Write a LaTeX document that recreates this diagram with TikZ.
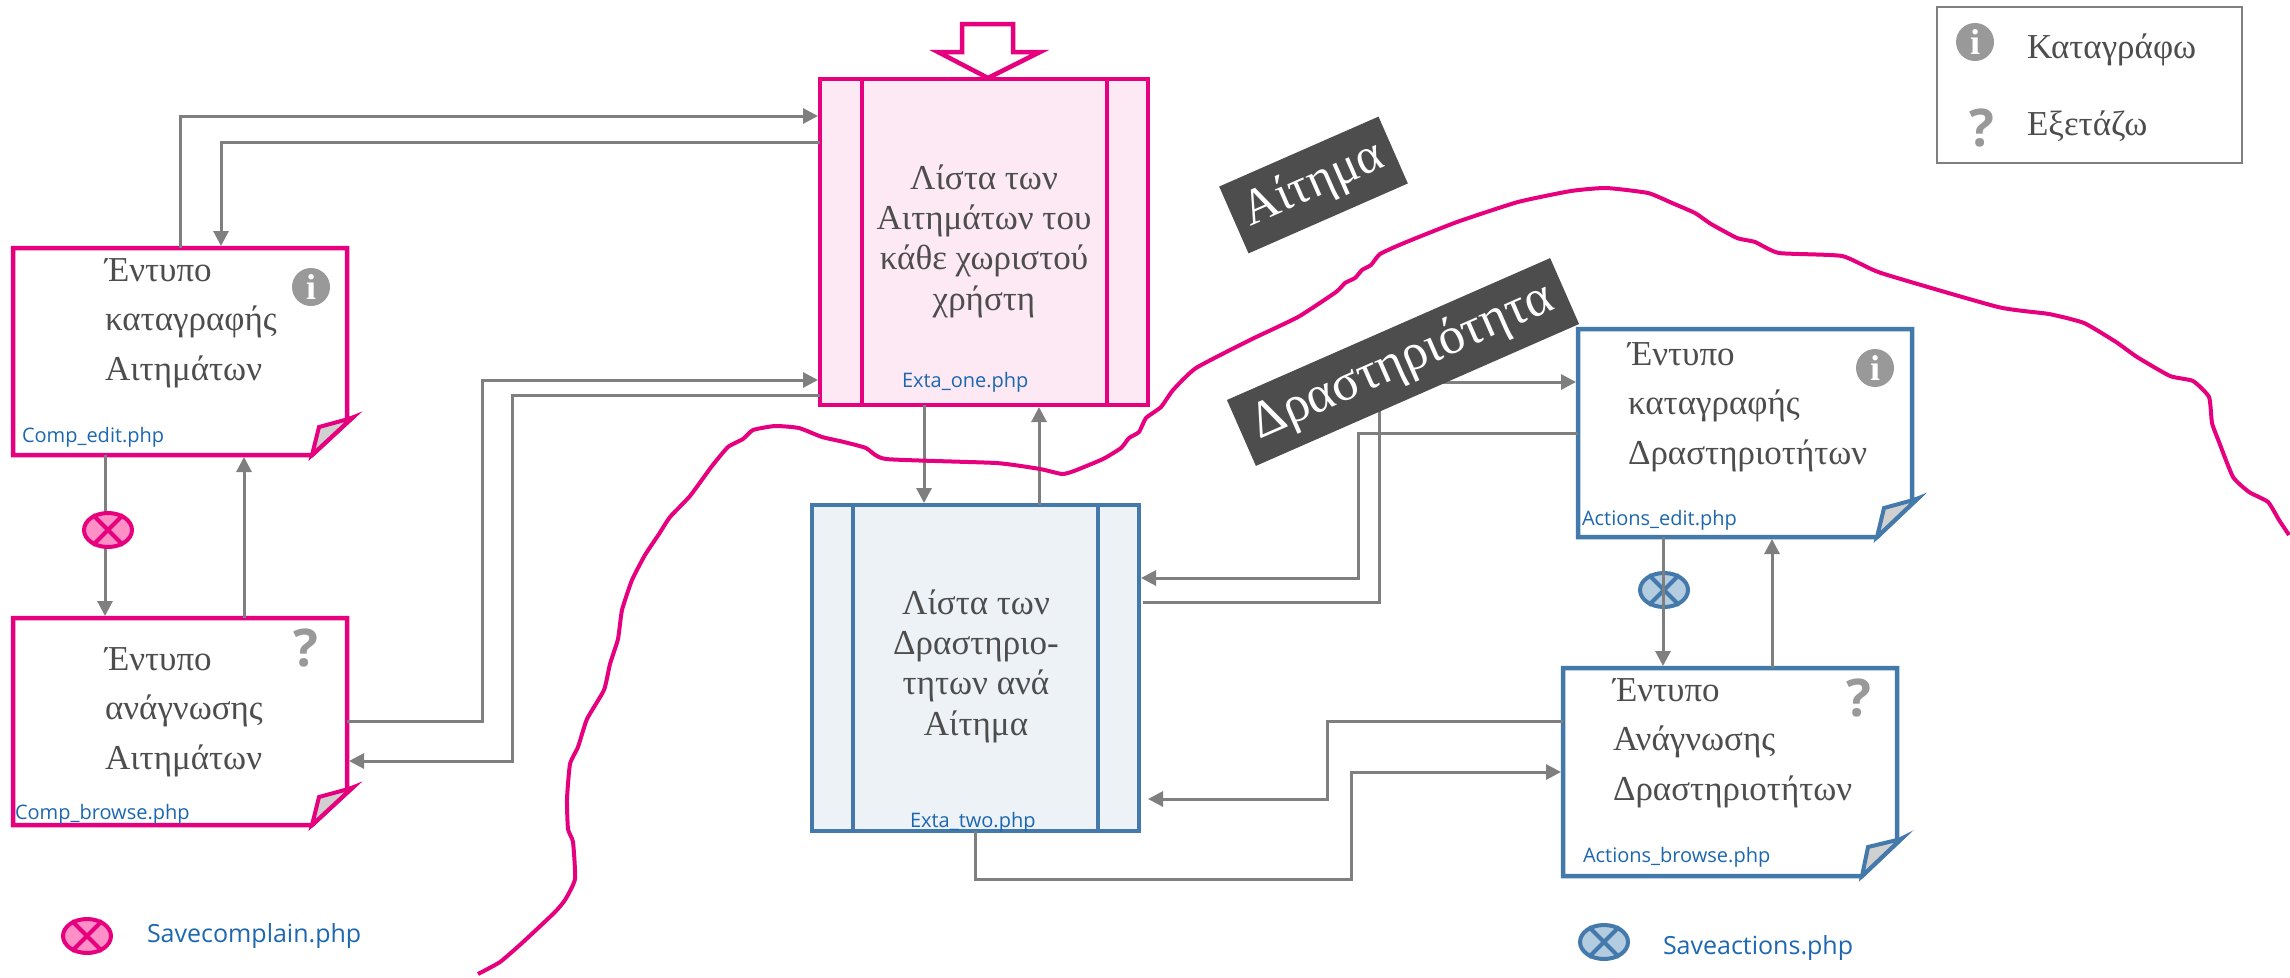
\documentclass[tikz,border=0pt]{standalone}
\usepackage{fontspec}
\setmainfont{Liberation Serif}
\newfontfamily\uifont{Open Sans}
\usetikzlibrary{arrows.meta,shapes.geometric,calc}
\definecolor{pinkc}{HTML}{E6007E}
\definecolor{pinkf}{HTML}{FDE9F4}
\definecolor{pinkm}{HTML}{FF8FC7}
\definecolor{bluec}{HTML}{4479AB}
\definecolor{bluef}{HTML}{EDF2F7}
\definecolor{bluem}{HTML}{B4CCE0}
\definecolor{grayc}{HTML}{7F7F7F}
\definecolor{txt}{HTML}{4D4D4D}
\definecolor{phpc}{HTML}{1D67B0}
\definecolor{icon}{HTML}{999999}
\definecolor{foldc}{HTML}{D0D0D0}
\tikzset{
  area/.style={rectangle,inner sep=0pt,outer sep=0pt,anchor=north west},
  frame/.style={line width=4.5pt,miter limit=10,line join=miter},
  foldp/.style={line width=4pt,fill=foldc,line join=miter},
  conn/.style={draw=grayc,line width=3pt},
  arr/.style={conn,-{Triangle[length=15pt,width=15pt]},shorten >=2pt},
  greek/.style={inner sep=0pt,outer sep=0pt,text=txt,font=\fontsize{35}{49.5}\selectfont,align=left,anchor=base west},
  greekc/.style={inner sep=0pt,outer sep=0pt,text=txt,font=\fontsize{35}{40.3}\selectfont,align=center,anchor=base},
  php/.style={inner sep=0pt,outer sep=0pt,text=phpc,font=\uifont\fontsize{20}{24}\selectfont,anchor=base west},
  phpl/.style={inner sep=0pt,outer sep=0pt,text=phpc,font=\uifont\fontsize{25}{30}\selectfont,anchor=base west},
  infoi/.style={circle,fill=icon,minimum size=38pt,inner sep=0pt,text=white,font=\bfseries\fontsize{36}{36}\selectfont},
  askq/.style={inner sep=0pt,text=icon,font=\uifont\bfseries\fontsize{52}{52}\selectfont},
  band/.style={rectangle,fill=txt,text=white,inner sep=0pt,rotate=23.7},
  mark pink/.style={ellipse,draw=pinkc,fill=pinkm,line width=4pt,minimum width=48pt,minimum height=34pt,inner sep=0pt},
  mark blue/.style={ellipse,draw=bluec,fill=bluem,line width=4pt,minimum width=48pt,minimum height=34pt,inner sep=0pt},
}
\begin{document}
\begin{tikzpicture}[x=1pt,y=-1pt]
\useasboundingbox (0,0) rectangle (2290,977);
% areas
\node[area,minimum width=334pt,minimum height=207pt] (ce) at (13,248) {};
\node[area,minimum width=334pt,minimum height=207pt] (cb) at (13,618) {};
\node[area,minimum width=334pt,minimum height=208pt] (ae) at (1578,329) {};
\node[area,minimum width=334pt,minimum height=208pt] (ab) at (1563,668) {};
\node[area,minimum width=328pt,minimum height=326pt,draw=pinkc,fill=pinkf,line width=4.5pt] (ex1) at (820,79) {};
\node[area,minimum width=327pt,minimum height=326pt,draw=bluec,fill=bluef,line width=4pt] (ex2) at (812,505) {};
% ex sides
\draw[pinkc,line width=4.5pt] (862,0 |- ex1.north) -- (862,0 |- ex1.south);
\draw[pinkc,line width=4.5pt] (1107,0 |- ex1.north) -- (1107,0 |- ex1.south);
\draw[bluec,line width=4pt] (853,0 |- ex2.north) -- (853,0 |- ex2.south);
\draw[bluec,line width=4pt] (1098,0 |- ex2.north) -- (1098,0 |- ex2.south);
% forms
\draw[pinkc,frame] (ce.north west) -- (ce.north east) -- (ce.east |- 0,420) -- (352,418) -- (312,455) -- (ce.south west) -- cycle;
\draw[pinkc,foldp] (312,455) -- (319,427) -- (352,418) -- cycle;
\draw[pinkc,frame] (cb.north west) -- (cb.north east) -- (cb.east |- 0,790) -- (352,788) -- (312,825) -- (cb.south west) -- cycle;
\draw[pinkc,foldp] (312,825) -- (319,797) -- (352,788) -- cycle;
\draw[bluec,frame] (ae.north west) -- (ae.north east) -- (ae.east |- 0,501) -- (1917,499) -- (1877,537) -- (ae.south west) -- cycle;
\draw[bluec,foldp] (1877,537) -- (1884,508) -- (1917,499) -- cycle;
\draw[bluec,frame] (ab.north west) -- (ab.north east) -- (ab.east |- 0,841) -- (1901,839) -- (1862,876) -- (ab.south west) -- cycle;
\draw[bluec,foldp] (1862,876) -- (1868,847) -- (1901,839) -- cycle;
% block arrow
\draw[pinkc,line width=4.5pt,fill=white,line join=miter] (962,24) -- (1013,24) -- (1013,52) -- (1040,52) -- (988,78) -- (938,52) -- (962,52) -- cycle;
% connectors
\draw[arr] (ce.north -| 180,0) -- (180,116) -- (ex1.west |- 0,116);
\draw[arr] (ex1.west |- 0,142) -- (221,142) -- (221,0 |- ce.north);
\draw[arr] (cb.east |- 0,721) -- (482,721) -- (482,380) -- (ex1.west |- 0,380);
\draw[arr] (ex1.west |- 0,395) -- (512,395) -- (512,761) -- (cb.east |- 0,761);
\draw[arr] (105,0 |- ce.south) -- (105,0 |- cb.north);
\draw[arr] (244,0 |- cb.north) -- (244,0 |- ce.south);
\draw[arr] (924,0 |- ex1.south) -- (924,0 |- ex2.north);
\draw[arr] (1039,0 |- ex2.north) -- (1039,0 |- ex1.south);
\draw[conn,-{Triangle[length=15pt,width=15pt]},shorten >=2pt,shorten <=4pt] (ex2.east |- 0,602) -- (1379,602) -- (1379,382) -- (ae.west |- 0,382);
\draw[arr] (ae.west |- 0,433) -- (1358,433) -- (1358,578) -- (ex2.east |- 0,578);
\node[mark blue] (mb) at (1664,590) {};
\draw[bluec,line width=4pt] (mb.45) -- (mb.225) (mb.135) -- (mb.315);
\draw[arr] (1663,0 |- ae.south) -- (1663,0 |- ab.north);
\draw[arr] (1772,0 |- ab.north) -- (1772,0 |- ae.south);
\draw[conn,-{Triangle[length=15pt,width=15pt]},shorten >=9pt] (ab.west |- 0,721) -- (1327,721) -- (1327,799) -- (ex2.east |- 0,799);
\draw[arr] (975,0 |- ex2.south) -- (975,879) -- (1351,879) -- (1351,772) -- (ab.west |- 0,772);
% pink marker on its line
\node[mark pink] (mp) at (108,530) {};
\draw[pinkc,line width=4pt] (mp.45) -- (mp.225) (mp.135) -- (mp.315);
% frontier
\draw[pinkc,line width=4pt,line join=round] plot[smooth,tension=0.3] coordinates {
(478,974)(500,962)(522,943)(554,913)(565,900)(575,879)(573,842)(568,829)(567,799)(570,764)(578,747)(587,719)(604,690)(610,664)(618,639)(622,610)(632,580)(645,555)(659,534)(670,517)(690,496)(712,466)(728,447)(743,439)(753,430)(775,426)(799,428)(822,437)(844,442)(866,448)(886,459)(996,463)(1040,469)(1062,474)(1074,471)(1103,459)(1121,448)(1129,438)(1139,432)(1146,418)(1161,407)(1173,390)(1196,368)(1250,340)(1298,317)(1336,292)(1345,283)(1355,278)(1362,270)(1371,265)(1380,254)(1404,243)(1457,222)(1518,202)(1571,191)(1606,188)(1648,193)(1672,203)(1695,213)(1711,224)(1737,238)(1755,242)(1779,253)(1842,256)(1881,273)(1998,307)(2049,314)(2084,323)(2116,342)(2137,357)(2170,376)(2193,381)(2209,397)(2212,423)(2219,442)(2233,477)(2249,492)(2268,502)(2279,520)(2289,535)};
% bands
\node[band,minimum width=174pt,minimum height=73pt,font=\fontsize{50}{50}\selectfont] (lb1) at (1313.5,185) {Αίτημα};
\node[band,minimum width=353pt,minimum height=72pt,font=\fontsize{52}{52}\selectfont] (lb2) at (1403,362) {Δραστηριότητα};
% greek text
\node[greek] (t1) at (105,380) {Έντυπο\\καταγραφής\\Αιτημάτων};
\node[greek] (t2) at (105,769) {Έντυπο\\ανάγνωσης\\Αιτημάτων};
\node[greek] (t3) at (1628,464) {Έντυπο\\καταγραφής\\Δραστηριοτήτων};
\node[greek] (t4) at (1613,800) {Έντυπο\\Ανάγνωσης\\Δραστηριοτήτων};
\node[greekc] (t5) at (984,310) {Λίστα των\\Αιτημάτων του\\κάθε χωριστού\\χρήστη};
\node[greekc] (t6) at (976,735) {Λίστα των\\Δραστηριο-\\τητων ανά\\Αίτημα};
% php
\node[php] (p1) at (22,442) {Comp\_edit.php};
\node[php] (p2) at (15,819) {Comp\_browse.php};
\node[php] (p3) at (902,387) {Exta\_one.php};
\node[php] (p4) at (910,827) {Exta\_two.php};
\node[php] (p5) at (1582,525) {Actions\_edit.php};
\node[php] (p6) at (1583,862) {Actions\_browse.php};
\node[phpl] (p7) at (147,942) {Savecomplain.php};
\node[phpl] (p8) at (1663,954) {Saveactions.php};
% icons
\node[infoi] (i1) at (311,287) {i};
\node[infoi] (i2) at (1875,368) {i};
\node[askq] (q1) at (306,648) {?};
\node[askq] (q2) at (1859,698) {?};
% legend markers
\node[mark pink] (lp) at (87,936) {};
\draw[pinkc,line width=4pt] (lp.45) -- (lp.225) (lp.135) -- (lp.315);
\node[mark blue] (lm) at (1604,942) {};
\draw[bluec,line width=4pt] (lm.45) -- (lm.225) (lm.135) -- (lm.315);
% legend
\node[area,minimum width=305pt,minimum height=156pt,draw=grayc,line width=2pt] (leg) at (1937,7) {};
\node[infoi] (i3) at (1975,42) {i};
\node[askq] (q3) at (1982,128) {?};
\node[greek] (l1) at (2027,58) {Καταγράφω};
\node[greek] (l2) at (2027,135) {Εξετάζω};
\end{tikzpicture}
\end{document}
